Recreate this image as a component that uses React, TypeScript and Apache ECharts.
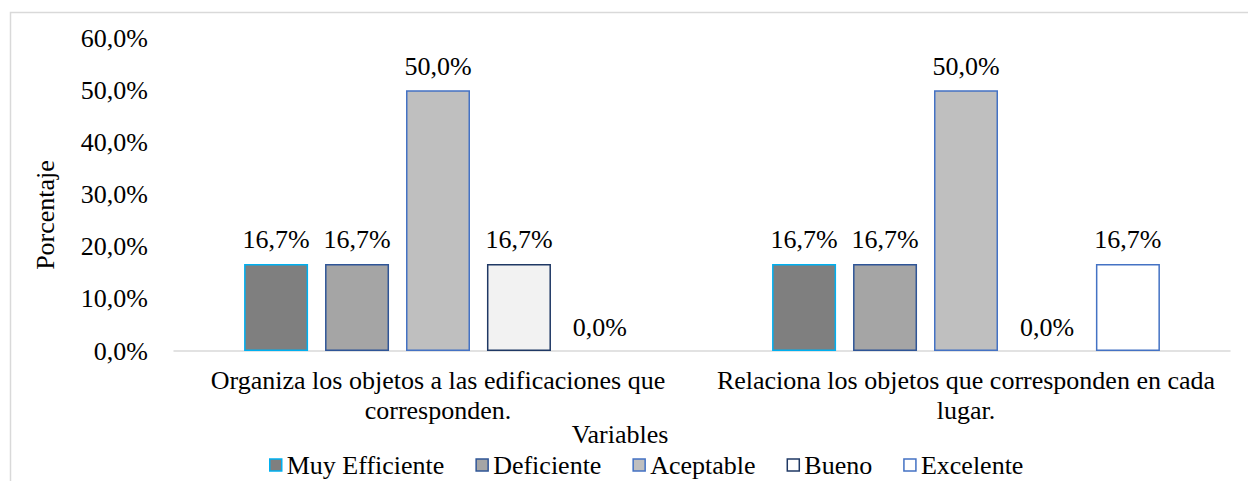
import React, { useEffect, useRef } from "react";
import * as echarts from "echarts";

const categories = [
  "Organiza los objetos a las edificaciones que\ncorresponden.",
  "Relaciona los objetos que corresponden en cada\nlugar.",
];
const seriesNames = ["Muy Efficiente", "Deficiente", "Aceptable", "Bueno", "Excelente"];
const muyEficiente = [16.7, 16.7];
const deficiente = [16.7, 16.7];
const aceptable = [50.0, 50.0];
const bueno = [16.7, 0.0];
const excelente = [0.0, 16.7];
const yTicks = [0, 10, 20, 30, 40, 50, 60];

const FONT = '"Liberation Serif", "Times New Roman", serif';
const FS = 26;

export default function App() {
  const ref = useRef<HTMLDivElement>(null);
  useEffect(() => {
    if (!ref.current) return;
    const chart = echarts.init(ref.current, undefined, { renderer: "svg" });
    const fills = ["#7f7f7f", "#a5a5a5", "#bfbfbf", "#f2f2f2", "#ffffff"];
    const borders = ["#00b0f0", "#2f5597", "#4472c4", "#1f3864", "#4472c4"];
    const legendFills = ["#7f7f7f", "#a5a5a5", "#bfbfbf", "#ffffff", "#ffffff"];
    const values = [muyEficiente, deficiente, aceptable, bueno, excelente];
    const fmt = (v: number) => v.toFixed(1).replace(".", ",") + "%";
    chart.setOption({
      animation: false,
      textStyle: { fontFamily: FONT, color: "#000" },
      grid: { left: 174, right: 18, top: 38, bottom: 130 },
      legend: {
        left: 264,
        top: 447,
        itemWidth: 12,
        itemHeight: 12,
        itemGap: 31,
        textStyle: { fontFamily: FONT, fontSize: FS, color: "#000" },
        data: seriesNames.map((n, i) => ({
          name: n,
          icon: "rect",
          itemStyle: { color: legendFills[i], borderColor: borders[i], borderWidth: 1.5 },
        })),
      },
      xAxis: {
        type: "category",
        data: categories,
        axisLine: { lineStyle: { color: "#d9d9d9", width: 1.5 } },
        axisTick: { show: false },
        axisLabel: {
          fontFamily: FONT,
          fontSize: FS,
          color: "#000",
          lineHeight: 30,
          margin: 14,
          interval: 0,
        },
      },
      yAxis: {
        type: "value",
        min: yTicks[0],
        max: yTicks[yTicks.length - 1],
        interval: 10,
        splitLine: { show: false },
        axisLine: { show: false },
        axisTick: { show: false },
        axisLabel: {
          fontFamily: FONT,
          fontSize: FS,
          color: "#000",
          margin: 26,
          formatter: (v: number) => fmt(v),
        },
      },
      graphic: [
        {
          type: "rect",
          shape: { x: 10.5, y: 12.5, width: 1260, height: 500 },
          style: { fill: "none", stroke: "#d9d9d9", lineWidth: 1.5 },
          silent: true,
        },
        {
          type: "text",
          x: 45,
          y: 215,
          rotation: Math.PI / 2,
          style: {
            text: "Porcentaje",
            font: `${FS}px ${FONT}`,
            fill: "#000",
            align: "center",
            verticalAlign: "middle",
          },
        },
        {
          type: "text",
          x: 620,
          y: 434,
          style: {
            text: "Variables",
            font: `${FS}px ${FONT}`,
            fill: "#000",
            align: "center",
            verticalAlign: "middle",
          },
        },
      ],
      series: seriesNames.map((n, i) => ({
        name: n,
        type: "bar",
        barWidth: 64,
        barGap: "26.5%",
        data: values[i].map((v) =>
          v === 0
            ? { value: v, itemStyle: { borderWidth: 0, color: "rgba(0,0,0,0)", borderColor: "rgba(0,0,0,0)" } }
            : v
        ),
        itemStyle: { color: fills[i], borderColor: borders[i], borderWidth: 1.5 },
        label: {
          show: true,
          position: "top",
          distance: 11,
          fontFamily: FONT,
          fontSize: FS,
          color: "#000",
          formatter: (p: any) => fmt(p.value),
        },
      })),
    });
    return () => chart.dispose();
  }, []);
  return (
    <div
      ref={ref}
      style={{ position: "fixed", left: 0, top: 0, width: 1248, height: 481, background: "#fff" }}
    />
  );
}
